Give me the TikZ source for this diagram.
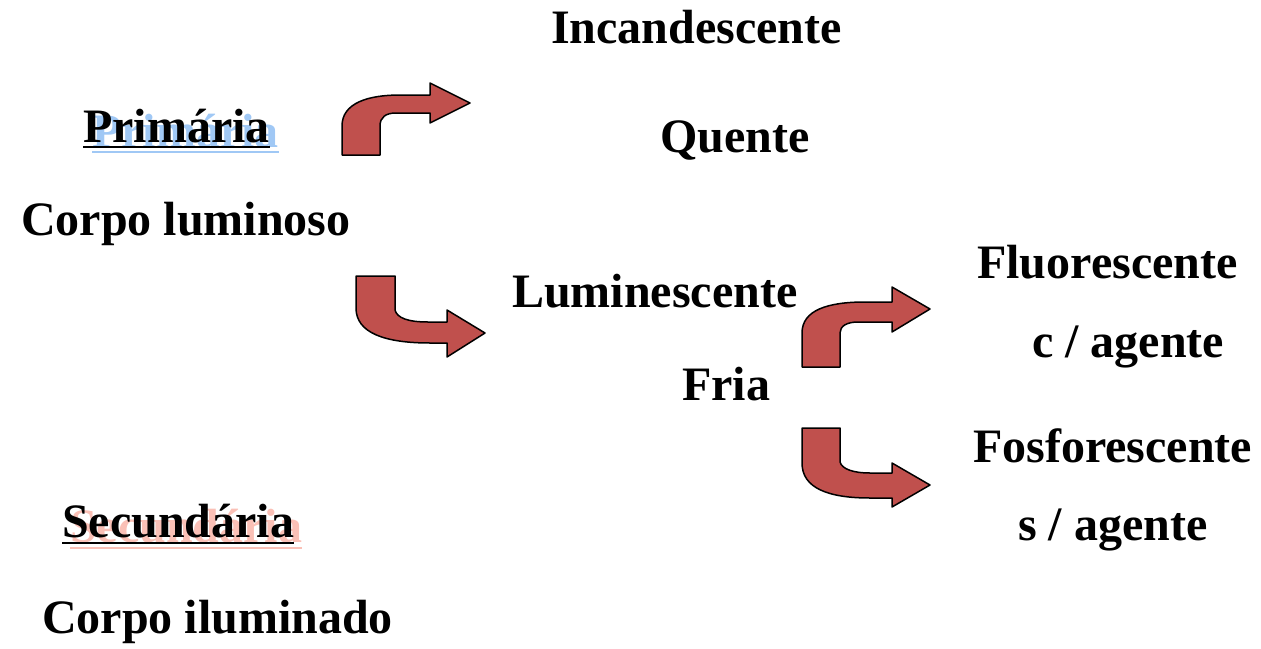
\documentclass[tikz,border=0pt]{standalone}
\usepackage{fontspec}
\setmainfont{Liberation Serif}

\definecolor{arrowred}{RGB}{192,80,77}
\definecolor{shadowblue}{RGB}{160,200,245}
\definecolor{shadowpink}{RGB}{250,192,182}

\tikzset{
    lbl/.style={anchor=base west, inner sep=0pt, font=\bfseries\fontsize{48}{56}\selectfont},
    bentarrow/.style={fill=arrowred, draw=black, line width=1.5pt, line join=round},
    uline/.style={line width=2.4pt},
}

\begin{document}
\begin{tikzpicture}[x=1pt, y=-1pt]
\useasboundingbox (0,0) rectangle (1261,648);

% left column
\node [lbl, text=shadowblue] (primShadow) at (92,147) {Primária};
\draw [uline, shadowblue] ([yshift=-5pt]primShadow.base west) -- ([yshift=-5pt]primShadow.base east);
\node [lbl] (prim) at (83,142) {Primária};
\draw [uline] ([yshift=-5pt]prim.base west) -- ([yshift=-5pt]prim.base east);
\node [lbl] (luminoso) at (21,235) {Corpo luminoso};

\node [lbl, text=shadowpink] (secShadow) at (70,542) {Secundária};
\draw [uline, shadowpink] ([yshift=-6pt]secShadow.base west) -- ([yshift=-6pt]secShadow.base east);
\node [lbl] (secund) at (62,537) {Secundária};
\draw [uline] ([yshift=-6pt]secund.base west) -- ([yshift=-6pt]secund.base east);
\node [lbl] (iluminado) at (42,633) {Corpo iluminado};

% middle column
\node [lbl] (incand) at (551,43) {Incandescente};
\node [lbl] (quente) at (660,152) {Quente};
\node [lbl] (lumin) at (512,307) {Luminescente};
\node [lbl] (fria) at (682,400) {Fria};

% right column
\node [lbl] (fluor) at (977,278) {Fluorescente};
\node [lbl] (cagente) at (1032,357) {c / agente};
\node [lbl] (fosfor) at (973,462) {Fosforescente};
\node [lbl] (sagente) at (1018,540) {s / agente};

% bent arrows
\draw [bentarrow] (342,155) -- (342,126) .. controls (342,103) and (368,95) .. (400,95)
    -- (430,95) -- (430,83) -- (470,103) -- (430,123) -- (430,113) -- (396,113)
    .. controls (386,113) and (380,117) .. (380,126) -- (380,155) -- cycle;
\draw [bentarrow] (356,276) -- (395,276) -- (395,310) .. controls (397,318) and (408,322) .. (428,322)
    -- (447,322) -- (447,310) -- (485,333) -- (447,357) -- (447,343) -- (430,343)
    .. controls (385,343) and (356,333) .. (356,308) -- cycle;
\draw [bentarrow] (802,367) -- (802,333) .. controls (802,310) and (828,302) .. (865,302)
    -- (892,302) -- (892,287) -- (930,309) -- (892,332) -- (892,322) -- (858,322)
    .. controls (847,322) and (840,326) .. (840,333) -- (840,367) -- cycle;
\draw [bentarrow] (802,428) -- (840,428) -- (840,462) .. controls (842,469) and (853,473) .. (870,473)
    -- (892,473) -- (892,463) -- (930,485) -- (892,507) -- (892,498) -- (870,498)
    .. controls (828,498) and (802,488) .. (802,463) -- cycle;
\end{tikzpicture}
\end{document}
